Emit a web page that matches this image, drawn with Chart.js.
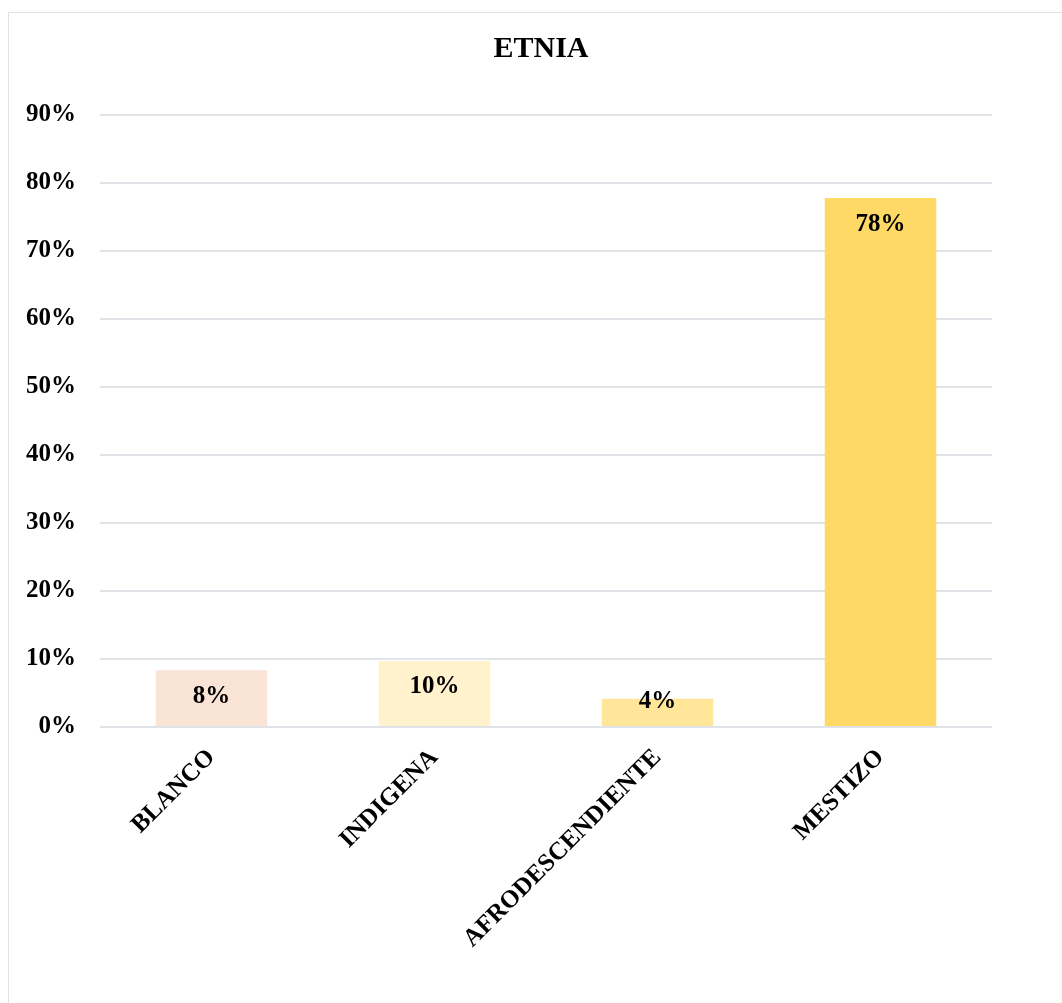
<!DOCTYPE html>
<html>
<head>
<meta charset="utf-8">
<script src="https://cdn.jsdelivr.net/npm/chart.js@4"></script>
<style>
    body { margin: 0; background: #fff; overflow: hidden; }
    #frame { position: absolute; left: 8px; top: 12px; width: 1100px; height: 1100px; border: 1.5px solid #dfe3e8; }
    #wrap { position: absolute; left: 0; top: 0; width: 1082px; height: 1003px; }
</style>
</head>
<body>
<div id="frame"></div>
<div id="wrap"><canvas id="barChart"></canvas></div>
<script>
const categories = ['BLANCO', 'INDIGENA', 'AFRODESCENDIENTE', 'MESTIZO'];
const percentages = [8.33, 9.72, 4.17, 77.78];
const barColors = ['#F9E4D6', '#FFF2CC', '#FFE699', '#FFD966'];
const yTicks = [0, 10, 20, 30, 40, 50, 60, 70, 80, 90];

const serif = "'Liberation Serif', 'Times New Roman', serif";

// labels inside the top of each bar
const barLabels = {
    id: 'barLabels',
    afterDatasetsDraw(chart) {
        const ctx = chart.ctx;
        const meta = chart.getDatasetMeta(0);
        ctx.save();
        ctx.font = 'bold 25px ' + serif;
        ctx.fillStyle = '#000';
        ctx.textAlign = 'center';
        ctx.textBaseline = 'middle';
        meta.data.forEach((bar, i) => {
            const h = bar.base - bar.y;
            const y = bar.y + Math.min(26, h - 24);
            ctx.fillText(Math.round(percentages[i]) + '%', bar.x, y);
        });
        ctx.restore();
    }
};

const ctxBar = document.getElementById('barChart').getContext('2d');
new Chart(ctxBar, {
    type: 'bar',
    data: {
        labels: categories,
        datasets: [{
            data: percentages,
            backgroundColor: barColors,
            barPercentage: 0.5,
            categoryPercentage: 1
        }]
    },
    options: {
        responsive: true,
        maintainAspectRatio: false,
        animation: false,
        layout: { padding: 0 },
        plugins: {
            legend: { display: false },
            tooltip: { enabled: false },
            title: {
                display: true,
                text: 'ETNIA',
                color: '#000',
                font: { family: serif, size: 30, weight: 'bold' },
                padding: { top: 31, bottom: 48 }
            }
        },
        scales: {
            x: {
                grid: { display: false },
                border: { display: false },
                ticks: {
                    color: '#000',
                    font: { family: serif, size: 25, weight: 'bold' },
                    minRotation: 45,
                    maxRotation: 45,
                    padding: 8
                },
                afterFit: s => { s.height = 276; }
            },
            y: {
                min: 0,
                max: 90,
                afterBuildTicks: s => { s.ticks = yTicks.map(v => ({ value: v })); },
                grid: { color: '#e0e3e8', lineWidth: 2, drawTicks: false },
                border: { display: false },
                ticks: {
                    color: '#000',
                    font: { family: serif, size: 25, weight: 'bold' },
                    padding: 24,
                    callback: v => v + '%'
                },
                afterFit: s => { s.width = 100; }
            },
            // empty right axis, only keeps the space right of the plot
            yRight: {
                position: 'right',
                min: 0,
                max: 90,
                grid: { display: false },
                border: { display: false },
                ticks: { display: false },
                afterFit: s => { s.width = 90; }
            }
        }
    },
    plugins: [barLabels]
});
</script>
</body>
</html>
